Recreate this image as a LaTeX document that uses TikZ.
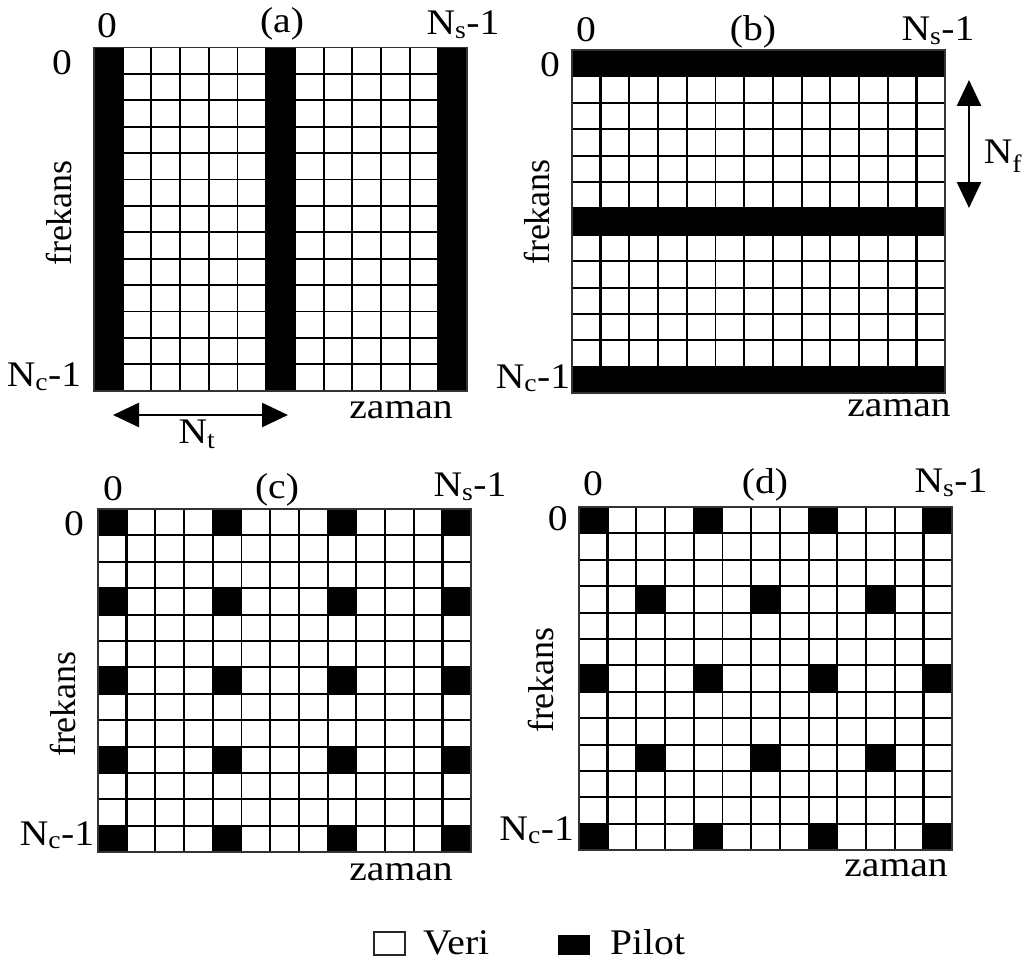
\documentclass[tikz,border=0pt]{standalone}
\usepackage{fontspec}
\setmainfont[FakeStretch=1.1]{Liberation Serif}
\newfontfamily\vertfont{Liberation Serif}
\usetikzlibrary{arrows.meta}
\tikzset{
  lbl/.style={font=\fontsize{36}{40}\selectfont, inner sep=0pt, anchor=base},
  vlbl/.style={font=\vertfont\fontsize{36}{40}\selectfont, inner sep=0pt, rotate=90},
  gridline/.style={line width=1.9pt, black},
  sepline/.style={line width=3.2pt, black},
  frameline/.style={line width=1.9pt, black!80},
  dimarrow/.style={line width=2.5pt, {Triangle[length=26pt,width=24pt]}-{Triangle[length=26pt,width=24pt]}},
}
\newcommand{\cellw}{28.7}
\newcommand{\cellh}{26.4}
\newcommand{\gridlines}{%
  \fill[white] (0,0) rectangle (13*\cellw,13*\cellh);
  \foreach \i in {1,...,12} {
    \draw[gridline] (\i*\cellw,0) -- (\i*\cellw,13*\cellh);
    \draw[gridline] (0,\i*\cellh) -- (13*\cellw,\i*\cellh);
  }}
\newcommand{\pcell}[2]{\fill (#1*\cellw,#2*\cellh) rectangle ++(\cellw,\cellh);}
\newcommand{\seplines}{%
  \draw[sepline] (\cellw,0) -- (\cellw,13*\cellh);
  \draw[sepline] (12*\cellw,0) -- (12*\cellw,13*\cellh);}
\newcommand{\gridframe}{\draw[frameline] (0,0) rectangle (13*\cellw,13*\cellh);}
\begin{document}
\begin{tikzpicture}[x=1pt,y=-1pt]
\useasboundingbox[fill=white] (0,0) rectangle (1030,971);

% ---------- (a) ----------
\begin{scope}[shift={(94,47.5)}]
  \gridlines
  \foreach \c in {0,6,12} {\fill (\c*\cellw,0) rectangle ++(\cellw,13*\cellh);}
  \gridframe
\end{scope}
\node[lbl] (a0t) at (107,38) {0};
\node[lbl] (atitle) at (282,33) {(a)};
\node[lbl] (ans) at (463,35) {N\textsubscript{s}-1};
\node[lbl] (a0l) at (62,75) {0};
\node[lbl] (anc) at (44,386.7) {N\textsubscript{c}-1};
\node[vlbl] (afr) at (59,213) {frekans};
\node[lbl] (aza) at (401,418) {zaman};
\coordinate (ntl) at (113,415);
\coordinate (ntr) at (288,415);
\draw[dimarrow] (ntl) -- (ntr);
\node[lbl] (ant) at (197,443) {N\textsubscript{t}};

% ---------- (b) ----------
\begin{scope}[shift={(572,50)}]
  \gridlines
  \seplines
  \foreach \r in {0,6,12} {\fill (0,\r*\cellh) rectangle ++(13*\cellw,\cellh);}
  \gridframe
\end{scope}
\node[lbl] (b0t) at (586,41.7) {0};
\node[lbl] (btitle) at (753,41) {(b)};
\node[lbl] (bns) at (938,40.7) {N\textsubscript{s}-1};
\node[lbl] (b0l) at (550,77) {0};
\node[lbl] (bnc) at (533,388) {N\textsubscript{c}-1};
\node[vlbl] (bfr) at (537,212) {frekans};
\node[lbl] (bza) at (899,416) {zaman};
\coordinate (nft) at (969,80);
\coordinate (nfb) at (969,208);
\draw[dimarrow] (nft) -- (nfb);
\node[lbl] (bnf) at (1003,163) {N\textsubscript{f}};

% ---------- (c) ----------
\begin{scope}[shift={(98,509)}]
  \gridlines
  \seplines
  \foreach \c in {0,4,8,12} {\foreach \r in {0,3,6,9,12} {\pcell{\c}{\r}}}
  \gridframe
\end{scope}
\node[lbl] (c0t) at (113,500.7) {0};
\node[lbl] (ctitle) at (277,498) {(c)};
\node[lbl] (cns) at (470,496.7) {N\textsubscript{s}-1};
\node[lbl] (c0l) at (74,535.7) {0};
\node[lbl] (cnc) at (57,845) {N\textsubscript{c}-1};
\node[vlbl] (cfr) at (62.7,704) {frekans};
\node[lbl] (cza) at (401,880) {zaman};

% ---------- (d) ----------
\begin{scope}[shift={(579,507)}]
  \gridlines
  \seplines
  \foreach \c in {0,4,8,12} {\foreach \r in {0,6,12} {\pcell{\c}{\r}}}
  \foreach \c in {2,6,10} {\foreach \r in {3,9} {\pcell{\c}{\r}}}
  \gridframe
\end{scope}
\node[lbl] (d0t) at (593,495) {0};
\node[lbl] (dtitle) at (765,493) {(d)};
\node[lbl] (dns) at (951,492.7) {N\textsubscript{s}-1};
\node[lbl] (d0l) at (557.7,530) {0};
\node[lbl, anchor=base east] (dnc) at (574,840) {N\textsubscript{c}-1};
\node[vlbl] (dfr) at (541,680) {frekans};
\node[lbl] (dza) at (896,876.7) {zaman};

% ---------- legend ----------
\draw[line width=2.2pt, black!85, fill=white] (374,932) rectangle (405,955);
\node[lbl, anchor=base west] (veri) at (423,954) {Veri};
\fill (558,935) rectangle (590,955);
\node[lbl, anchor=base west] (pilot) at (610,954) {Pilot};
\end{tikzpicture}
\end{document}
